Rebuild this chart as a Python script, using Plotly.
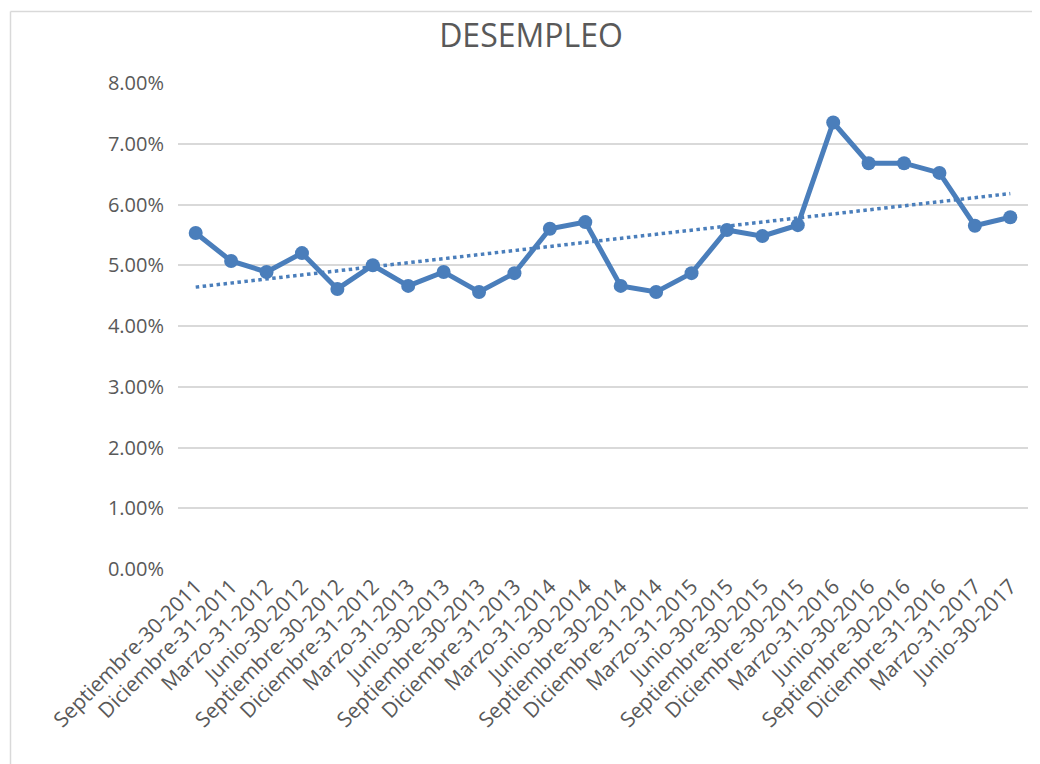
import plotly.graph_objects as go

categories = [
    "Septiembre-30-2011", "Diciembre-31-2011", "Marzo-31-2012", "Junio-30-2012",
    "Septiembre-30-2012", "Diciembre-31-2012", "Marzo-31-2013", "Junio-30-2013",
    "Septiembre-30-2013", "Diciembre-31-2013", "Marzo-31-2014", "Junio-30-2014",
    "Septiembre-30-2014", "Diciembre-31-2014", "Marzo-31-2015", "Junio-30-2015",
    "Septiembre-30-2015", "Diciembre-30-2015", "Marzo-31-2016", "Junio-30-2016",
    "Septiembre-30-2016", "Diciembre-31-2016", "Marzo-31-2017", "Junio-30-2017",
]
desempleo = [
    0.0553, 0.0507, 0.0489, 0.0520, 0.0461, 0.0500, 0.0466, 0.0489,
    0.0456, 0.0487, 0.0560, 0.0571, 0.0466, 0.0456, 0.0487, 0.0558,
    0.0548, 0.0566, 0.0735, 0.0668, 0.0668, 0.0652, 0.0565, 0.0579,
]
# linear trendline as drawn in the picture (first and last category)
trend_values = [0.0464, 0.0618]
y_ticks = [0.00, 0.01, 0.02, 0.03, 0.04, 0.05, 0.06, 0.07, 0.08]

line_color = "#4a7ebb"
text_color = "#595959"
font_family = "Open Sans, Noto Sans, sans-serif"

fig = go.Figure()
fig.add_trace(go.Scatter(
    x=[categories[0], categories[-1]], y=trend_values,
    mode="lines", line=dict(color=line_color, width=3.5, dash="dot"),
    hoverinfo="skip", showlegend=False,
))
fig.add_trace(go.Scatter(
    x=categories, y=desempleo, mode="lines+markers",
    line=dict(color=line_color, width=5),
    marker=dict(color=line_color, size=14),
    showlegend=False,
))

# page has an 8px body margin; figure placed at (8, 8)
OFF = 8
W, H = 1040 - OFF, 764 - OFF
L, R, T = 178 - OFF, 12, 83 - OFF
B = H - T - 486
pw, ph = W - L - R, H - T - B

def px_x(p):
    return (p - OFF - L) / pw

def px_y(p):
    return (H - B - (p - OFF)) / ph

fig.update_layout(
    width=W, height=H,
    margin=dict(l=L, r=R, t=T, b=B),
    paper_bgcolor="white", plot_bgcolor="white",
    title=dict(text="DESEMPLEO", x=(531 - OFF) / W, xanchor="center",
               y=1 - (36 - OFF) / H, yanchor="middle",
               font=dict(family=font_family, size=32, color=text_color)),
    xaxis=dict(
        type="category", categoryorder="array", categoryarray=categories,
        tickangle=-45, showgrid=False, showline=False, ticks="",
        tickfont=dict(family=font_family, size=21, color=text_color),
        range=[-0.5, len(categories) - 0.5],
    ),
    yaxis=dict(
        range=[0, 0.08], tickvals=y_ticks, tickformat=".2%",
        showgrid=True, gridcolor="#d9d9d9", gridwidth=1.5,
        zeroline=False, showline=False, ticks="",
        tickfont=dict(family=font_family, size=20, color=text_color),
        ticklabelstandoff=13,
    ),
    shapes=[
        dict(type="line", xref="paper", yref="paper",
             x0=px_x(10.5), x1=px_x(10.5), y0=px_y(775), y1=px_y(11.5),
             line=dict(color="#d9d9d9", width=1.5)),
        dict(type="line", xref="paper", yref="paper",
             x0=px_x(10.5), x1=px_x(1050), y0=px_y(11.5), y1=px_y(11.5),
             line=dict(color="#d9d9d9", width=1.5)),
    ],
)

fig.write_html("out.html")
